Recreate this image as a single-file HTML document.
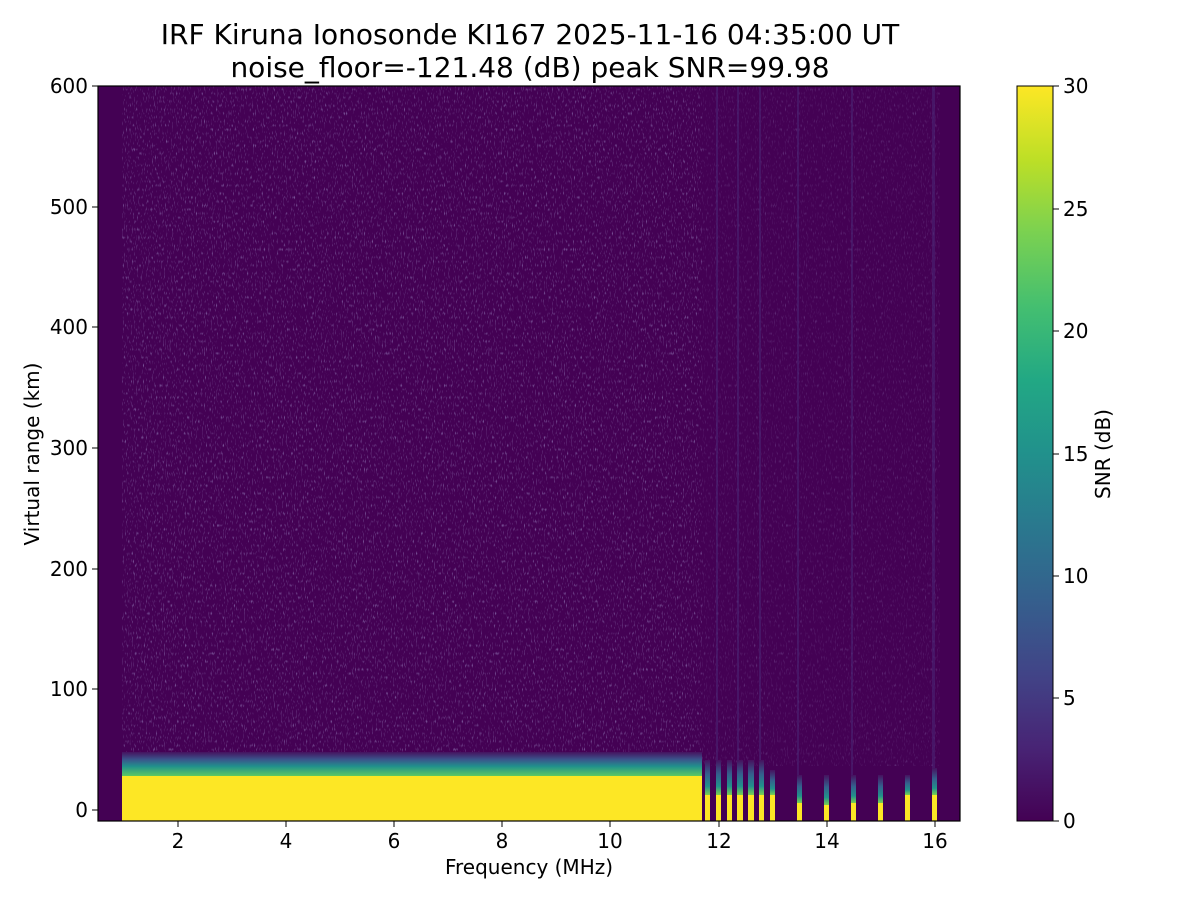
<!DOCTYPE html>
<html><head><meta charset="utf-8"><style>
body{margin:0;background:#fff;}
svg text{font-family:"DejaVu Sans","Liberation Sans",sans-serif;fill:#000;}
</style></head><body>
<svg width="1200" height="900" viewBox="0 0 1200 900" xmlns="http://www.w3.org/2000/svg">
<defs>
<linearGradient id="cb" x1="0" y1="1" x2="0" y2="0">
<stop offset="0" stop-color="#440154"/><stop offset="0.1" stop-color="#482475"/>
<stop offset="0.2" stop-color="#414487"/><stop offset="0.3" stop-color="#355f8d"/>
<stop offset="0.4" stop-color="#2a788e"/><stop offset="0.5" stop-color="#21918c"/>
<stop offset="0.6" stop-color="#22a884"/><stop offset="0.7" stop-color="#44bf70"/>
<stop offset="0.8" stop-color="#7ad151"/><stop offset="0.9" stop-color="#bddf26"/>
<stop offset="1" stop-color="#fde725"/></linearGradient>
<linearGradient id="edge" x1="0" y1="0" x2="0" y2="1">
<stop offset="0" stop-color="#46125f"/><stop offset="0.3" stop-color="#3b528b"/>
<stop offset="0.6" stop-color="#21918c"/><stop offset="1" stop-color="#5ec962"/></linearGradient>
<linearGradient id="bar" x1="0" y1="0" x2="0" y2="1">
<stop offset="0" stop-color="#46125f"/><stop offset="0.4" stop-color="#355f8d"/>
<stop offset="0.75" stop-color="#21918c"/><stop offset="1" stop-color="#7ad151"/></linearGradient>
<filter id="nz" x="0" y="0" width="1" height="1">
<feTurbulence type="fractalNoise" baseFrequency="0.9 0.25" numOctaves="1" seed="3"/>
<feColorMatrix values="0 0 0 0 0.29  0 0 0 0 0.2  0 0 0 0 0.48  0 0 0 3 -1.75"/>
<feComposite in2="SourceGraphic" operator="in"/>
</filter>
</defs>
<text x="530" y="44" font-size="28" text-anchor="middle">IRF Kiruna Ionosonde KI167 2025-11-16 04:35:00  UT</text>
<text x="530" y="77" font-size="28" text-anchor="middle">noise_floor=-121.48 (dB) peak SNR=99.98</text>
<rect x="98" y="86" width="862" height="735" fill="#440154"/>
<rect x="122" y="86" width="580" height="680" fill="#fff" filter="url(#nz)"/>
<rect x="702" y="86" width="238" height="680" fill="#fff" filter="url(#nz)" opacity="0.5"/>
<rect x="122" y="752" width="580" height="24" fill="url(#edge)"/>
<rect x="122" y="776" width="580" height="45" fill="#fde725"/>
<g fill="url(#bar)">
<rect x="705" y="760" width="5" height="35"/><rect x="716" y="760" width="5" height="35"/>
<rect x="727" y="760" width="5" height="35"/><rect x="737" y="760" width="6" height="35"/>
<rect x="748" y="760" width="6" height="35"/><rect x="759" y="760" width="5" height="35"/>
<rect x="770" y="770" width="5" height="25"/><rect x="797" y="775" width="5" height="28"/>
<rect x="824" y="775" width="5" height="30"/><rect x="851" y="775" width="5" height="28"/>
<rect x="878" y="775" width="5" height="28"/><rect x="905" y="775" width="5" height="20"/>
<rect x="932" y="768" width="5" height="27"/>
</g>
<g fill="#fde725">
<rect x="705" y="795" width="5" height="26"/><rect x="716" y="795" width="5" height="26"/>
<rect x="727" y="795" width="5" height="26"/><rect x="737" y="795" width="6" height="26"/>
<rect x="748" y="795" width="6" height="26"/><rect x="759" y="795" width="5" height="26"/>
<rect x="770" y="795" width="5" height="26"/><rect x="797" y="803" width="5" height="18"/>
<rect x="824" y="805" width="5" height="16"/><rect x="851" y="803" width="5" height="18"/>
<rect x="878" y="803" width="5" height="18"/><rect x="905" y="795" width="5" height="26"/>
<rect x="932" y="795" width="5" height="26"/>
</g>
<g fill="#4a2a78" opacity="0.5">
<rect x="716" y="86" width="2" height="674"/><rect x="737" y="86" width="2" height="674"/>
<rect x="759" y="86" width="2" height="674"/><rect x="797" y="86" width="2" height="689"/>
<rect x="851" y="86" width="2" height="689"/><rect x="932" y="86" width="3" height="682"/>
</g>
<rect x="98" y="86" width="862" height="735" fill="none" stroke="#000" stroke-width="1.2"/>
<g stroke="#000" stroke-width="1">
<line x1="178" y1="821" x2="178" y2="827"/><line x1="286" y1="821" x2="286" y2="827"/>
<line x1="394" y1="821" x2="394" y2="827"/><line x1="502" y1="821" x2="502" y2="827"/>
<line x1="610" y1="821" x2="610" y2="827"/><line x1="719" y1="821" x2="719" y2="827"/>
<line x1="827" y1="821" x2="827" y2="827"/><line x1="935" y1="821" x2="935" y2="827"/>
<line x1="92" y1="810" x2="98" y2="810"/><line x1="92" y1="689" x2="98" y2="689"/>
<line x1="92" y1="569" x2="98" y2="569"/><line x1="92" y1="448" x2="98" y2="448"/>
<line x1="92" y1="327" x2="98" y2="327"/><line x1="92" y1="207" x2="98" y2="207"/>
<line x1="92" y1="86" x2="98" y2="86"/>
</g>
<g font-size="20" text-anchor="middle">
<text x="178" y="848">2</text><text x="286" y="848">4</text><text x="394" y="848">6</text>
<text x="502" y="848">8</text><text x="610" y="848">10</text><text x="719" y="848">12</text>
<text x="827" y="848">14</text><text x="935" y="848">16</text>
</g>
<g font-size="20" text-anchor="end">
<text x="88" y="817">0</text><text x="88" y="696">100</text><text x="88" y="576">200</text>
<text x="88" y="455">300</text><text x="88" y="334">400</text><text x="88" y="214">500</text>
<text x="88" y="93">600</text>
</g>
<text x="529" y="874" font-size="20" text-anchor="middle">Frequency (MHz)</text>
<text transform="translate(39,454) rotate(-90)" font-size="20" text-anchor="middle">Virtual range (km)</text>
<rect x="1017" y="86" width="36" height="735" fill="url(#cb)" stroke="#000" stroke-width="1"/>
<g stroke="#000">
<line x1="1053" y1="821" x2="1059" y2="821"/><line x1="1053" y1="698" x2="1059" y2="698"/>
<line x1="1053" y1="576" x2="1059" y2="576"/><line x1="1053" y1="454" x2="1059" y2="454"/>
<line x1="1053" y1="331" x2="1059" y2="331"/><line x1="1053" y1="209" x2="1059" y2="209"/>
<line x1="1053" y1="86" x2="1059" y2="86"/>
</g>
<g font-size="20">
<text x="1063" y="828">0</text><text x="1063" y="705">5</text><text x="1063" y="583">10</text>
<text x="1063" y="461">15</text><text x="1063" y="338">20</text><text x="1063" y="216">25</text>
<text x="1063" y="93">30</text>
</g>
<text transform="translate(1110,454) rotate(-90)" font-size="20" text-anchor="middle">SNR (dB)</text>
</svg>
</body></html>
